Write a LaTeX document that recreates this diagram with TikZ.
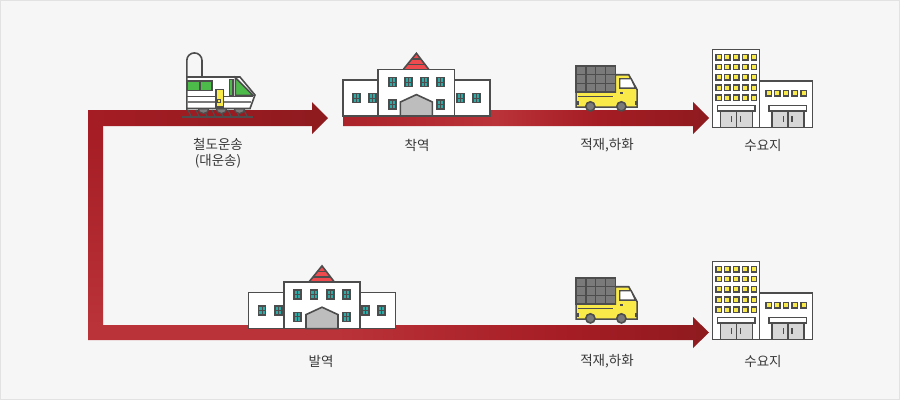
\documentclass[tikz,border=0pt]{standalone}
\usepackage{fontspec}
\setmainfont{Noto Sans CJK KR}
\usetikzlibrary{calc, positioning}
\definecolor{bgGray}{HTML}{F6F6F6}
\definecolor{edgeGray}{HTML}{E2E2E2}
\definecolor{lineDark}{HTML}{4D4D4D}
\definecolor{redDark}{HTML}{8E1B1F}
\definecolor{redMid}{HTML}{A51C24}
\definecolor{redLight}{HTML}{BA3338}
\definecolor{roofRed}{HTML}{EF4B4F}
\definecolor{winTeal}{HTML}{2FA9A6}
\definecolor{doorGray}{HTML}{BDBDBD}
\definecolor{cargoGray}{HTML}{7A7A7A}
\definecolor{truckYellow}{HTML}{F9EA4A}
\definecolor{trainGreen}{HTML}{4DBB49}
\pgfdeclarehorizontalshading{lowerBar}{100bp}{color(0bp)=(redLight); color(25bp)=(redLight); color(45bp)=(redLight); color(64bp)=(redMid); color(75bp)=(redDark); color(100bp)=(redDark)}
\pgfdeclarehorizontalshading{upperBar}{100bp}{color(0bp)=(redMid!70!redLight); color(25bp)=(redMid!70!redLight); color(46bp)=(redLight); color(60bp)=(redMid); color(75bp)=(redDark); color(100bp)=(redDark)}
\tikzset{
    outline/.style={draw=lineDark, line width=1.6pt, line join=miter},
    wall/.style={outline, fill=white},
    caption/.style={font=\fontsize{13.5}{16}\selectfont, text=black!78, align=center},
    winYellow/.style={draw=lineDark, line width=1.3pt, fill=truckYellow},
    winDark/.style={draw=lineDark, line width=1.8pt, fill=winTeal},
}
\newcommand{\drawWindow}[2]{
    \draw[winDark] (#1-3.5,#2-4.5) rectangle (#1+3.5,#2+4.5);
    \draw[lineDark, line width=1pt] (#1,#2-4.5) -- (#1,#2+4.5) (#1-3.5,#2) -- (#1+3.5,#2);
}
\newcommand{\drawStation}[2]{
    \begin{scope}[shift={(#1,#2)}]
        \draw[wall] (-0.5,26.5) rectangle (146.3,62.7);
        \fill[roofRed] (60,16) -- (73,0) -- (85.3,16) -- cycle;
        \draw[outline] (60,16) -- (73,0) -- (85.3,16);
        \draw[lineDark, line width=1.4pt] (68.5,5.5) -- (77.5,5.5) (64,11) -- (81.5,11);
        \draw[wall] (34.7,16) rectangle (111,62.7);
        \foreach \wx in {48.7, 65, 81.4, 97.3} {\drawWindow{\wx}{28.7}}
        \foreach \wx in {48.7, 97.3} {\drawWindow{\wx}{51}}
        \foreach \wx in {13, 29.3, 116.7, 132.7} {\drawWindow{\wx}{44.7}}
        \draw[outline, fill=doorGray] (57,62.7) -- (57,48.7) -- (73,41.3) -- (89,48.7) -- (89,62.7) -- cycle;
    \end{scope}
}
\newcommand{\drawTruck}[2]{
    \begin{scope}[shift={(#1,#2)}]
        \draw[outline, fill=truckYellow] (39.3,8.6) -- (52.6,8.6) -- (61,23.6) -- (61,41) -- (0,41) -- (0,26) -- (39.3,26) -- cycle;
        \draw[outline, line width=1.3pt, fill=white] (43.6,12.6) -- (55,12.6) -- (59.3,22) -- (43.6,22) -- cycle;
        \draw[lineDark, line width=1.3pt] (1.5,30.3) -- (37.3,30.3);
        \fill[lineDark] (43.5,26.2) rectangle (47,28);
        \fill[lineDark] (1,35) rectangle (2.5,39);
        \fill[lineDark] (59,35) rectangle (61,39);
        \draw[outline, fill=cargoGray] (0,0) rectangle (39.3,26);
        \foreach \cx in {9.8, 19.6, 29.5} {\draw[lineDark, line width=1.3pt] (\cx,0) -- (\cx,26);}
        \foreach \cy in {8.7, 17.3} {\draw[lineDark, line width=1.3pt] (0,\cy) -- (39.3,\cy);}
        \draw[outline, fill=cargoGray] (14.3,40.3) circle (4.6);
        \draw[outline, fill=cargoGray] (45.3,40.3) circle (4.6);
    \end{scope}
}
\newcommand{\drawDepot}[2]{
    \begin{scope}[shift={(#1,#2)}]
        \draw[wall] (47,31.7) rectangle (100,78.3);
        \draw[wall] (0,0) rectangle (47,78.3);
        \foreach \wy in {8, 17.7, 28, 38.3, 48.3} {
            \foreach \wx in {6, 14.7, 23.7, 32.7, 41.4} {
                \draw[winYellow] (\wx-2.7,\wy-2.7) rectangle (\wx+2.7,\wy+2.7);
            }
        }
        \foreach \wx in {56, 64.7, 73.4, 82, 91} {
            \draw[winYellow] (\wx-2.7,41.3) rectangle (\wx+2.7,46.7);
        }
        \foreach \dx in {7.7, 59.4} {
            \draw[outline, line width=1.3pt, fill=doorGray!60] (\dx,61.7) rectangle (\dx+32,78.3);
            \draw[lineDark, line width=1.2pt] (\dx+16,61.7) -- (\dx+16,78.3) (\dx+11.5,67) -- (\dx+11.5,72.7) (\dx+20,67) -- (\dx+20,72.7);
            \draw[wall, line width=1.3pt] (\dx-3,56) rectangle (\dx+34.7,61.7);
        }
    \end{scope}
}
\begin{document}
\begin{tikzpicture}[x=1pt, y=-1pt]
    \useasboundingbox (0,0) rectangle (900,400);
    \draw[draw=edgeGray, fill=bgGray, line width=1pt] (0.5,0.5) rectangle (899.5,399.5);
    % left line and the lower arrow
    \shade[top color=redMid, bottom color=redLight] (88,125) rectangle (103,326);
    \shade[shading=lowerBar] (88,325) -- (693,325) -- (693,317) -- (709,332.5) -- (693,348) -- (693,340) -- (88,340) -- cycle;
    % upper arrows
    \shade[left color=redMid, right color=redDark] (88,110) -- (312,110) -- (312,102) -- (328,118) -- (312,134) -- (312,126) -- (88,126) -- cycle;
    \shade[shading=upperBar] (343,110) -- (693,110) -- (693,102) -- (709,118) -- (693,134) -- (693,126) -- (343,126) -- cycle;
    % train
    \foreach \tx in {188, 196, ..., 248} {\draw[lineDark, line width=1.3pt] (\tx,110) -- (\tx+3,116);}
    \draw[lineDark, line width=1.6pt] (181.7,117) -- (253.3,117);
    \foreach \tx in {203.5, 221.5, 239.5} {\draw[lineDark, line width=1.2pt, fill=cargoGray] (\tx,108) circle (5.5);}
    \draw[outline] (186.8,110) -- (186.8,60.5) arc[start angle=180, end angle=360, radius=7.6] -- (202,77);
    \draw[wall] (186.8,77) -- (240,77) -- (255,95) -- (250,108.5) -- (186.8,108.5) -- cycle;
    \draw[outline, fill=trainGreen] (187.3,81) rectangle (211.7,90.3);
    \draw[outline] (200,81) -- (200,90.3);
    \draw[outline, fill=trainGreen] (235.3,77.5) -- (253,95.3) -- (235.3,95.3) -- cycle;
    \draw[outline, fill=trainGreen] (229.5,79.5) rectangle (232.9,95.3);
    \draw[lineDark, line width=1.4pt] (186.8,96.3) -- (253,96.3);
    \draw[draw=none, fill=cargoGray] (186.8,100.7) rectangle (251,103.2);
    \draw[outline, fill=truckYellow] (216,89.5) rectangle (223.5,107);
    \draw[lineDark, line width=1pt] (217.3,99.2) -- (220.3,99.2) -- (220.3,102.2) -- (217.3,102.2) -- cycle;
    % stations, trucks, depots
    \drawStation{343.4}{53.3}
    \drawStation{249}{265.9}
    \drawTruck{576.1}{66.1}
    \drawTruck{576.1}{278.1}
    \drawDepot{712.6}{49.3}
    \drawDepot{712.6}{261.3}
    % captions
    \node[caption] (railLabel) at (218,153.3) {철도운송\\(대운송)};
    \node[caption] (arriveLabel) at (417,145) {착역};
    \node[caption] (unloadTop) at (607,145.3) {적재,하화};
    \node[caption] (depotTop) at (763,145) {수요지};
    \node[caption] (departLabel) at (321,361) {발역};
    \node[caption] (unloadLow) at (607,361.3) {적재,하화};
    \node[caption] (depotLow) at (763,361) {수요지};
\end{tikzpicture}
\end{document}
